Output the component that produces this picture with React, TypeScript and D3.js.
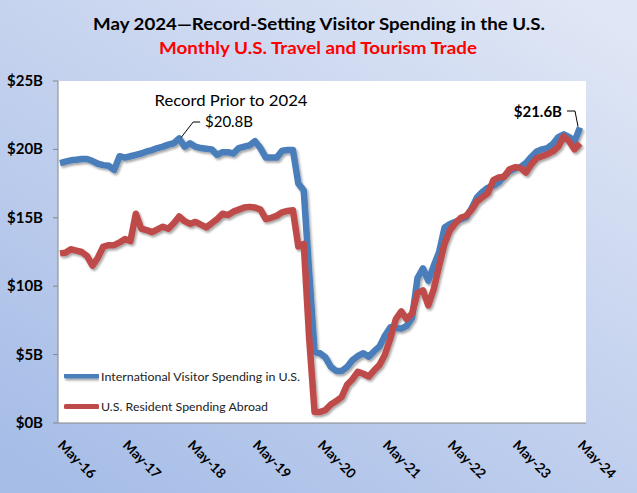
import React from "react";
import * as d3 from "d3";

const W = 637;
const H = 493;

const xTickLabels = ["May-16", "May-17", "May-18", "May-19", "May-20", "May-21", "May-22", "May-23", "May-24"];
const yTicks = [0, 5, 10, 15, 20, 25];

// Monthly values, May 2016 .. May 2024 (billions USD)
const internationalVisitor = [
  19.0, 19.1, 19.2, 19.25, 19.3, 19.3, 19.15, 18.95, 18.85, 18.8, 18.5, 19.5,
  19.4, 19.5, 19.6, 19.7, 19.85, 19.95, 20.1, 20.2, 20.35, 20.45, 20.8, 20.2,
  20.45, 20.2, 20.1, 20.05, 20.0, 19.6, 19.8, 19.8, 19.7, 20.1, 20.2, 20.3,
  20.6, 20.1, 19.4, 19.4, 19.4, 19.9, 19.95, 19.95, 17.5, 17.0, 11.0, 5.2,
  5.1, 4.8, 4.1, 3.8, 3.8, 4.1, 4.6, 4.9, 5.1, 4.85, 5.25, 5.6,
  6.4, 7.0, 6.95, 6.9, 7.1, 7.7, 10.6, 11.3, 10.4, 11.5, 12.5, 14.3,
  14.55, 14.7, 14.9, 15.05, 15.7, 16.5, 16.9, 17.2, 17.35, 17.6, 18.05, 18.4,
  18.6, 18.7, 19.0, 19.45, 19.85, 20.0, 20.1, 20.4, 20.9, 21.1, 20.9, 20.6,
  21.6,
];

const usResidentAbroad = [
  12.4, 12.45, 12.7, 12.6, 12.5, 12.2, 11.5, 12.1, 12.9, 13.0, 13.0, 13.2,
  13.45, 13.3, 15.3, 14.2, 14.1, 13.95, 14.15, 14.35, 14.2, 14.6, 15.1, 14.75,
  14.55, 14.7, 14.5, 14.3, 14.6, 14.9, 15.3, 15.2, 15.45, 15.6, 15.75, 15.8,
  15.75, 15.6, 14.9, 15.0, 15.15, 15.4, 15.5, 15.55, 12.9, 13.1, 6.2, 0.8,
  0.8, 0.95, 1.35, 1.6, 1.9, 2.8, 3.2, 3.75, 3.6, 3.4, 3.85, 4.25,
  5.0, 6.2, 7.6, 8.15, 7.6, 8.0, 9.5, 9.7, 8.6, 9.8, 11.5, 13.1,
  14.1, 14.6, 15.0, 15.15, 15.6, 16.2, 16.5, 16.8, 17.75, 17.95, 18.0, 18.55,
  18.7, 18.65, 18.3, 18.9, 19.35, 19.5, 19.65, 19.85, 20.2, 20.95, 20.6, 20.0,
  20.45,
];

const seriesNames = ["International Visitor Spending in U.S.", "U.S. Resident Spending Abroad"];
const title = "May 2024\u2014Record-Setting Visitor Spending in the U.S.";
const subtitle = "Monthly U.S. Travel and Tourism Trade";
const recordLabel = "Record Prior to 2024";
const recordValueLabel = "$20.8B";
const recordIndex = 22;
const latestLabel = "$21.6B";

const BLUE = "#4a7ebb";
const RED = "#be4b48";
const FONT = "Lato, 'Open Sans', sans-serif";

export default function App() {
  const plot = { left: 58, right: 586, top: 81, bottom: 423 };
  const n = internationalVisitor.length;
  const x = d3.scaleLinear().domain([0, n - 1]).range([60, 580]);
  const y = d3.scaleLinear().domain([0, 25]).range([plot.bottom, plot.top]);

  const line = d3
    .line<number>()
    .x((_, i) => x(i))
    .y((d) => y(d))
    .curve(d3.curveLinear);

  const recX = x(recordIndex);
  const recY = y(internationalVisitor[recordIndex]);
  const lastX = x(n - 1);
  const lastY = y(internationalVisitor[n - 1]);

  return (
    <svg
      width={W}
      height={H}
      style={{ position: "fixed", left: 0, top: 0 }}
      fontFamily={FONT}
    >
      <defs>
        <linearGradient id="bg" x1="0.9" y1="0" x2="0.1" y2="1">
          <stop offset="0" stopColor="#dfe6f5" />
          <stop offset="0.5" stopColor="#c3d1ee" />
          <stop offset="1" stopColor="#a6bde7" />
        </linearGradient>
        <filter id="shadow" x="-5%" y="-5%" width="110%" height="110%">
          <feDropShadow dx="1.5" dy="2" stdDeviation="1.2" floodColor="#000" floodOpacity="0.35" />
        </filter>
      </defs>
      <rect x={0} y={0} width={W} height={H} fill="url(#bg)" />

      <text x={319} y={30} textAnchor="middle" fontWeight="bold" fontSize={17.5} fill="#000" textLength={452} lengthAdjust="spacingAndGlyphs">
        {title}
      </text>
      <text x={318} y={54} textAnchor="middle" fontWeight="bold" fontSize={17.5} fill="#ff0000" textLength={318} lengthAdjust="spacingAndGlyphs">
        {subtitle}
      </text>

      <rect x={plot.left} y={plot.top} width={plot.right - plot.left} height={plot.bottom - plot.top} fill="#fff" />

      {/* Axes */}
      <line x1={plot.left} x2={plot.left} y1={plot.top} y2={plot.bottom} stroke="#868686" strokeWidth={1} />
      <line x1={plot.left} x2={plot.right} y1={plot.bottom} y2={plot.bottom} stroke="#868686" strokeWidth={1} />
      {yTicks.map((t) => (
        <g key={t}>
          <line x1={plot.left - 5} x2={plot.left} y1={y(t)} y2={y(t)} stroke="#868686" />
          <text x={43} y={y(t) + 5} textAnchor="end" fontWeight="bold" fontSize={15} fill="#000">
            {`$${t}B`}
          </text>
        </g>
      ))}

      {/* X labels */}
      {xTickLabels.map((lab, k) => {
        const xi = x(k * 12) - 3;
        const yi = 446;
        return (
          <text key={lab} x={xi} y={yi} transform={`rotate(45 ${xi} ${yi})`} fontWeight="bold" fontSize={13.5} fill="#000">
            {lab}
          </text>
        );
      })}

      {/* Lines */}
      <g filter="url(#shadow)">
        <path d={line(internationalVisitor) || ""} fill="none" stroke={BLUE} strokeWidth={6.5} strokeLinejoin="round" strokeLinecap="butt" />
        <path d={line(usResidentAbroad) || ""} fill="none" stroke={RED} strokeWidth={6.5} strokeLinejoin="round" strokeLinecap="butt" />
      </g>

      {/* Legend */}
      <g filter="url(#shadow)">
        <line x1={66} x2={97} y1={376} y2={376} stroke={BLUE} strokeWidth={5} strokeLinecap="round" />
        <line x1={66} x2={97} y1={406.5} y2={406.5} stroke={RED} strokeWidth={5} strokeLinecap="round" />
      </g>
      <text x={101} y={380.5} fontSize={12} fill="#222" textLength={199} lengthAdjust="spacingAndGlyphs">{seriesNames[0]}</text>
      <text x={101} y={411} fontSize={12} fill="#222" textLength={167} lengthAdjust="spacingAndGlyphs">{seriesNames[1]}</text>

      {/* Record annotation */}
      <text x={231} y={106} textAnchor="middle" fontSize={16} fill="#000" textLength={153} lengthAdjust="spacingAndGlyphs">{recordLabel}</text>
      <text x={205} y={127} fontSize={16} fill="#000" textLength={48} lengthAdjust="spacingAndGlyphs">{recordValueLabel}</text>
      <polyline points={`${recX + 2},${recY - 1} ${recX + 14},${122} ${recX + 21},${122}`} fill="none" stroke="#000" strokeWidth={1} />

      {/* Latest annotation */}
      <text x={562} y={117} textAnchor="end" fontWeight="bold" fontSize={15} fill="#000">{latestLabel}</text>
      <polyline points={`${lastX - 13},${111} ${lastX - 5},${111} ${lastX - 2},${lastY - 1}`} fill="none" stroke="#000" strokeWidth={1} />
    </svg>
  );
}
